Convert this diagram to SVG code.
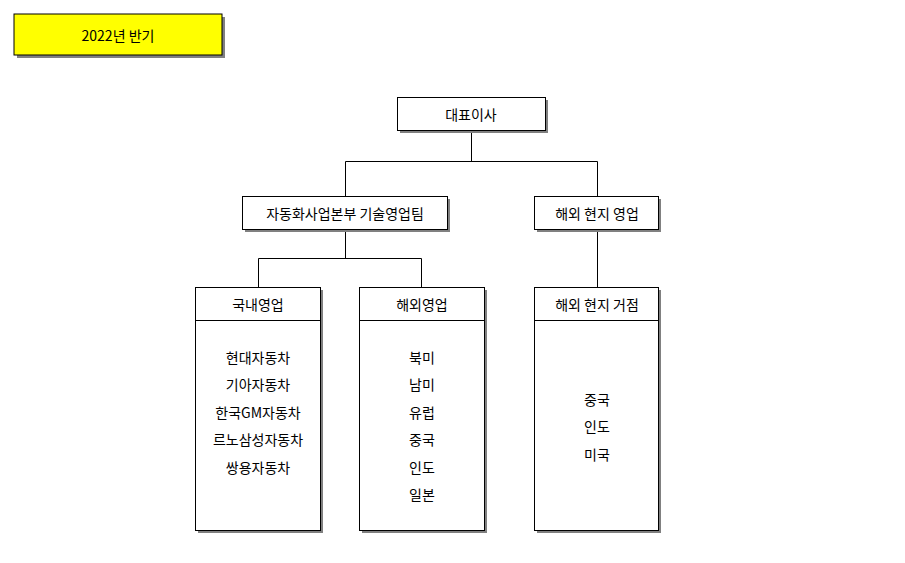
<svg xmlns="http://www.w3.org/2000/svg" width="905" height="563" viewBox="0 0 905 563">
<style>
.b{fill:#fff;stroke:#000;stroke-width:1}
.s{fill:#808080}
.t{font-family:"Noto Sans CJK KR","Liberation Sans",sans-serif;font-size:14px;text-anchor:middle;dominant-baseline:central;fill:#000}
.c{stroke:#000;stroke-width:1;fill:none}
</style>
<rect width="905" height="563" fill="#fff"/>
<g id="period"><rect class="s" x="17" y="17" width="208" height="41"/><rect x="14" y="14" width="208" height="41" fill="#ffff00" stroke="#000"/><text class="t" x="118" y="35">2022년 반기</text></g>
<g id="connectors">
<path class="c" d="M471.5 130V161.5M345.5 161.5H597.5M345.5 161.5V196M597.5 161.5V196M345.5 229V258.5M258.5 258.5H421.5M258.5 258.5V287M421.5 258.5V287M597.5 229V287"/>
</g>
<g id="ceo"><rect class="s" x="400" y="100" width="148" height="33"/><rect class="b" x="397.5" y="97.5" width="148" height="33"/><text class="t" x="471" y="114">대표이사</text></g>
<g id="team"><rect class="s" x="245" y="199" width="205" height="33"/><rect class="b" x="242.5" y="196.5" width="205" height="33"/><text class="t" x="345" y="213">자동화사업본부 기술영업팀</text></g>
<g id="overseas"><rect class="s" x="537" y="199" width="124" height="33"/><rect class="b" x="534.5" y="196.5" width="124" height="33"/><text class="t" x="597" y="213">해외 현지 영업</text></g>
<g id="domestic"><rect class="s" x="198" y="290" width="125" height="243"/><rect class="b" x="195.5" y="287.5" width="125" height="243"/><line class="c" x1="195.5" y1="320.5" x2="320.5" y2="320.5"/><text class="t" x="258" y="304">국내영업</text>
<text class="t" x="258" y="357">현대자동차</text><text class="t" x="258" y="384">기아자동차</text><text class="t" x="258" y="412">한국GM자동차</text><text class="t" x="258" y="439">르노삼성자동차</text><text class="t" x="258" y="467">쌍용자동차</text></g>
<g id="export"><rect class="s" x="362" y="290" width="125" height="243"/><rect class="b" x="359.5" y="287.5" width="125" height="243"/><line class="c" x1="359.5" y1="320.5" x2="484.5" y2="320.5"/><text class="t" x="422" y="304">해외영업</text>
<text class="t" x="422" y="357">북미</text><text class="t" x="422" y="384">남미</text><text class="t" x="422" y="412">유럽</text><text class="t" x="422" y="439">중국</text><text class="t" x="422" y="467">인도</text><text class="t" x="422" y="494">일본</text></g>
<g id="bases"><rect class="s" x="537" y="290" width="124" height="243"/><rect class="b" x="534.5" y="287.5" width="124" height="243"/><line class="c" x1="534.5" y1="320.5" x2="658.5" y2="320.5"/><text class="t" x="597" y="304">해외 현지 거점</text>
<text class="t" x="597" y="399">중국</text><text class="t" x="597" y="426">인도</text><text class="t" x="597" y="454">미국</text></g>
</svg>
